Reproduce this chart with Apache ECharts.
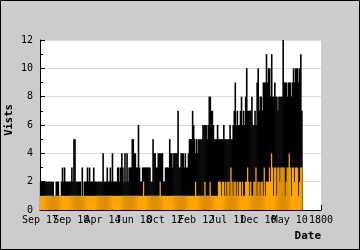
<!DOCTYPE html>
<html><head><meta charset="utf-8">
<script src="https://cdn.jsdelivr.net/npm/echarts@6/dist/echarts.min.js"></script>
<style>html,body{margin:0;padding:0;background:#cccccc}#c{width:360px;height:250px}</style>
</head><body><div id="c"></div>
<script>
const xTickLabels = ['Sep 17','Sep 18','Apr 14','Jun 18','Oct 12','Feb 12','Jul 11','Dec 10','May 10','1800'];
const yTicks = [0,2,4,6,8,10,12];
const visits = [
2,2,2,2,2,2,2,2,2,2, 2,2,2,1,1,2,2,2,1,1, 2,3,2,3,2,2,2,2,2,2, 3,2,5,5,2,2,2,2,2,1,
3,1,2,2,2,3,2,3,2,2, 2,3,2,2,2,2,2,2,2,2, 4,2,2,2,3,2,2,3,2,4, 2,2,2,2,3,3,2,3,4,3,
2,4,2,4,2,3,3,3,5,5, 4,4,3,3,6,3,2,2,3,3, 3,3,3,3,3,3,2,2,5,4, 4,3,3,4,4,4,4,4,2,2,
3,3,3,3,5,4,4,3,4,4, 4,4,7,3,3,4,4,4,3,4, 3,3,4,5,5,5,7,6,5,4, 5,4,5,5,5,5,6,6,6,6,
5,6,8,8,7,7,6,5,5,5, 6,5,5,5,5,5,6,5,5,5, 5,5,6,5,5,6,7,9,6,7, 6,6,7,8,6,7,6,8,10,7,
7,7,7,8,6,6,7,6,9,10, 7,8,8,7,9,9,9,11,9,10, 10,8,11,8,8,9,8,8,7,8, 8,8,8,12,9,9,9,8,9,9,
9,8,9,10,9,10,10,10,9,10, 11,7
];
const uniques = [
1,1,1,1,1,1,1,1,1,1, 1,1,1,1,1,1,1,1,1,1, 1,1,1,1,1,1,1,1,1,1, 1,1,1,1,1,1,1,1,1,1,
1,1,1,1,1,1,1,1,1,1, 1,1,1,1,1,1,1,1,1,1, 1,1,1,1,1,1,1,1,1,1, 1,1,1,1,1,1,1,1,1,1,
1,1,1,1,1,1,1,1,1,1, 1,1,1,1,1,1,1,1,1,2, 1,1,1,1,1,1,1,1,1,1, 1,1,1,1,1,2,1,1,1,1,
1,1,1,1,1,1,1,1,1,1, 1,1,1,1,1,1,1,1,1,1, 1,1,1,1,1,1,1,1,1,2, 1,1,1,1,1,1,1,1,2,1,
1,1,1,2,1,1,1,1,1,1, 1,2,2,2,1,2,2,1,2,1, 2,2,1,3,2,1,2,2,1,2, 1,2,2,1,2,1,1,2,2,3,
2,1,2,1,1,2,2,3,1,2, 2,1,2,2,1,3,1,2,2,2, 3,2,4,3,1,3,3,1,3,3, 2,3,3,3,3,1,2,3,3,4,
3,1,3,3,2,3,3,3,1,2, 3,3
];
const SLOTS = 270, STEP = 30;
const font = 'DejaVu Sans Mono';
const labelBase = {fontFamily:font, fontSize:10, color:'#000', margin:5, hideOverlap:false,
  showMinLabel:true, showMaxLabel:true, alignMinLabel:'center', alignMaxLabel:'center'};
const chart = echarts.init(document.getElementById('c'), null, {renderer:'canvas'});
chart.setOption({
  backgroundColor:'#cccccc',
  animation:false,
  grid:{left:40, top:40, right:39, bottom:40, show:true, backgroundColor:'#ffffff', borderWidth:0},
  xAxis:[{type:'value', min:0, max:SLOTS, interval:STEP,
    name:'Date', nameLocation:'end', nameGap:0,
    nameTextStyle:{fontFamily:font, fontWeight:'bold', fontSize:11, color:'#000', align:'right', verticalAlign:'top', padding:[21,0,0,0]},
    axisLine:{show:true, lineStyle:{color:'#000', width:1}},
    axisTick:{show:true, inside:true, length:5, lineStyle:{color:'#000'}},
    splitLine:{show:false},
    axisLabel:Object.assign({}, labelBase, {formatter:(v)=>{const k=Math.round(v/STEP);return k%2===0?xTickLabels[k]:'';}})
  },{type:'value', min:0, max:SLOTS, interval:STEP, position:'bottom', gridIndex:0,
    axisLine:{show:false}, axisTick:{show:false}, splitLine:{show:false},
    axisLabel:Object.assign({}, labelBase, {formatter:(v)=>{const k=Math.round(v/STEP);return k%2===1?xTickLabels[k]:'';}})
  }],
  yAxis:{type:'value', min:yTicks[0], max:yTicks[yTicks.length-1], interval:2,
    axisLine:{show:true, lineStyle:{color:'#000', width:1}},
    axisTick:{show:true, inside:true, length:5, lineStyle:{color:'#000'}},
    minorTick:{show:true, splitNumber:2, length:3, lineStyle:{color:'#000'}},
    splitLine:{show:true, lineStyle:{color:'#dddddd', width:1}},
    axisLabel:{fontFamily:font, fontSize:10, color:'#000', margin:7}
  },
  series:[
    {type:'bar', xAxisIndex:0, data:visits.map((v,i)=>[i+0.5,v]), barWidth:1.6, barGap:'-100%', itemStyle:{color:'#000000'}, silent:true},
    {type:'bar', xAxisIndex:0, data:uniques.map((v,i)=>[i+0.5,v]), barWidth:1.3, barGap:'-100%', itemStyle:{color:'#ffa500'}, silent:true}
  ],
  graphic:[
    {type:'text', x:9, y:120, rotation:Math.PI/2, style:{text:'Vists', fontFamily:font, fontWeight:'bold', fontSize:10.5, fill:'#000', align:'center', verticalAlign:'middle'}},
    {type:'rect', shape:{x:0.5,y:0.5,width:359,height:249}, style:{fill:null, stroke:'#000', lineWidth:1}, z:100}
  ]
});
</script></body></html>
